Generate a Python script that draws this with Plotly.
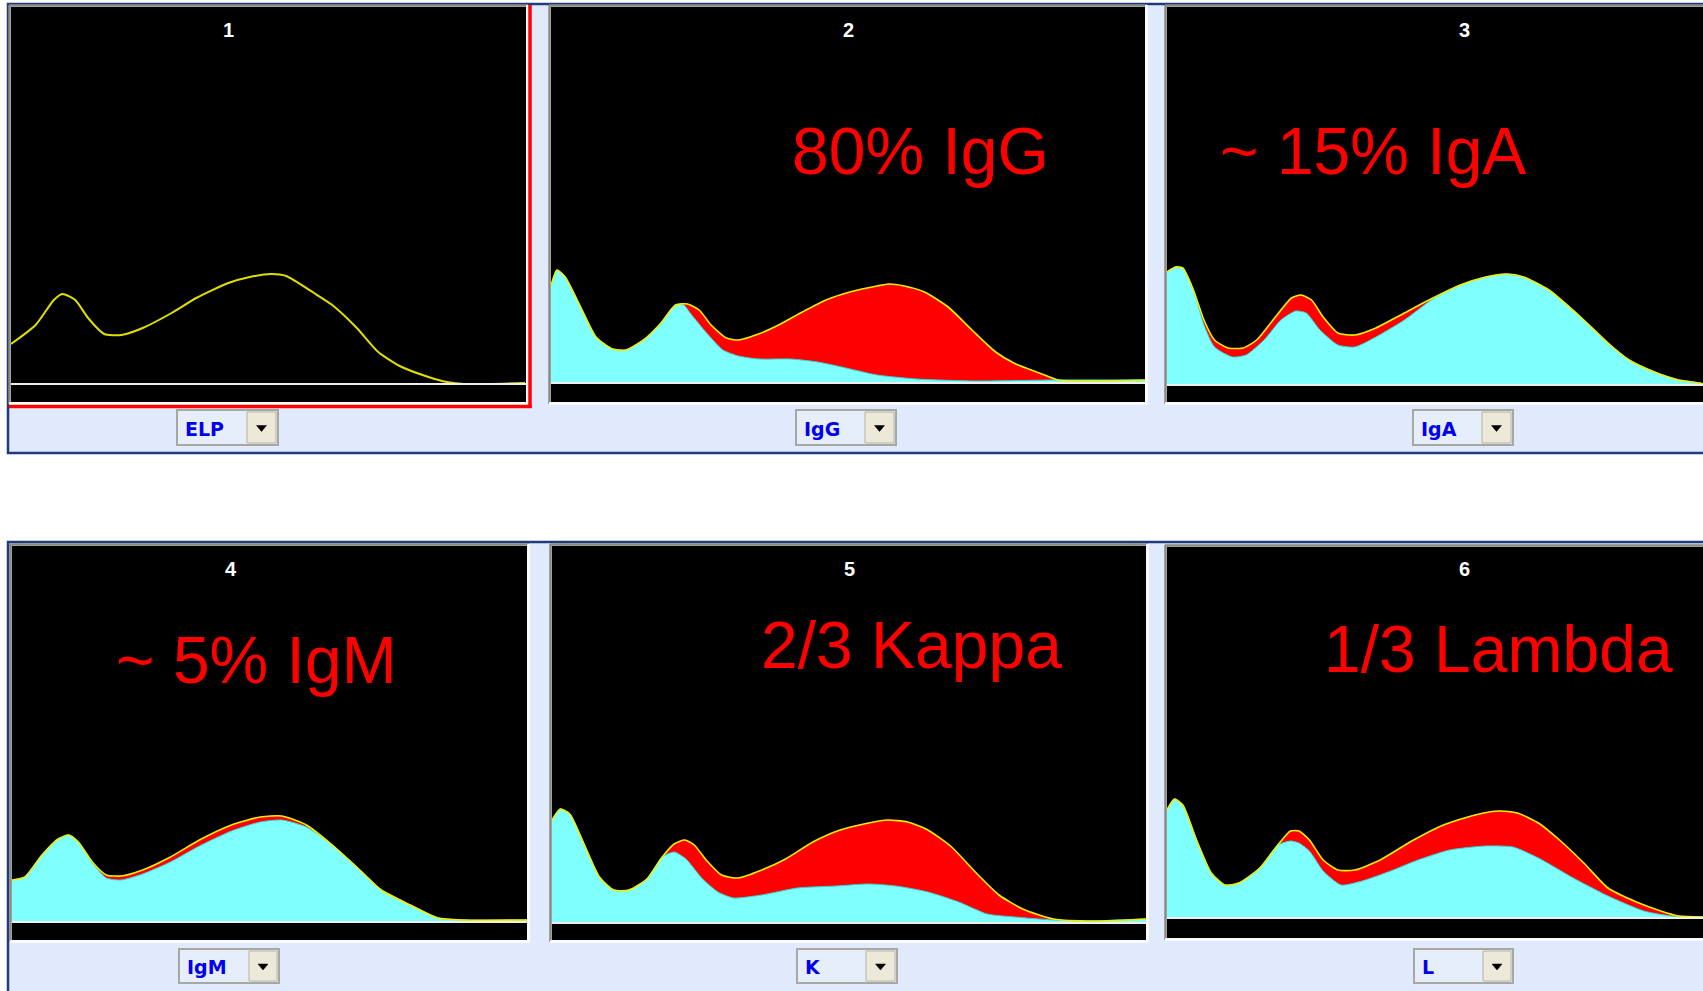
import plotly.graph_objects as go

W, H = 1703, 991

# ---------------- data (heights above baseline vs. mobility position) ----------------
ELP_x = [0, 23, 40, 48, 60, 72, 87, 103, 123, 150, 173, 203, 223, 243, 257, 283, 300, 323, 343, 363, 390, 407, 423, 480]
ELP_y = [40, 59, 84, 90, 84, 66, 50, 49, 56, 71, 86, 101, 107, 110, 108, 91, 79, 56, 32, 18, 7, 2, 0, 1]

IgG_top_x = [0, 5, 12, 25, 38, 52, 63, 78, 92, 105, 115, 125, 135, 148, 158, 175, 192, 212, 232, 252, 275, 285, 298, 315, 335, 355, 375, 392, 412, 428, 458, 501]
IgG_top_y = [97, 113, 106, 76, 46, 34, 33, 43, 59, 78, 79, 73, 58, 45, 43, 49, 58, 71, 83, 91, 97, 99, 97, 91, 76, 53, 31, 19, 10, 3, 2, 3]
IgG_rest_x = [0, 5, 12, 25, 38, 52, 63, 78, 92, 105, 112, 118, 132, 145, 158, 175, 202, 225, 245, 275, 308, 358, 425, 501]
IgG_rest_y = [97, 113, 106, 76, 46, 34, 33, 43, 59, 78, 78, 69, 49, 33, 27, 24, 24, 21, 16, 8, 4, 2, 3, 3]

IgA_top_x = [0, 8, 15, 25, 35, 45, 58, 72, 85, 102, 118, 127, 137, 148, 162, 178, 198, 225, 252, 278, 302, 322, 338, 362, 392, 418, 438, 462, 485, 505, 508]
IgA_top_y = [113, 118, 117, 95, 65, 45, 37, 37, 45, 67, 87, 90, 85, 68, 52, 50, 57, 72, 87, 100, 108, 111, 108, 95, 68, 42, 25, 13, 5, 2, 1]
IgA_rest_x = [0, 8, 15, 25, 35, 45, 62, 75, 92, 108, 122, 132, 145, 162, 178, 198, 225, 252, 278, 302, 322, 338, 362, 392, 418, 438, 462, 485, 505, 508]
IgA_rest_y = [113, 118, 117, 95, 60, 38, 28, 30, 45, 65, 74, 72, 55, 40, 38, 48, 65, 86, 100, 108, 111, 108, 95, 68, 42, 25, 13, 5, 2, 1]

IgM_x = [0, 12, 28, 43, 53, 62, 75, 88, 102, 122, 148, 175, 205, 232, 252, 275, 298, 322, 345, 372, 398, 422, 481]
IgM_top_y = [42, 45, 67, 83, 87, 80, 60, 47, 46, 52, 65, 82, 97, 105, 106, 97, 78, 55, 32, 17, 4, 2, 2]
IgM_rest_y = [42, 45, 67, 83, 87, 80, 59, 44, 42, 48, 60, 76, 91, 100, 102, 95, 78, 55, 32, 17, 4, 2, 2]

K_top_x = [0, 7, 15, 27, 40, 52, 65, 80, 93, 103, 112, 120, 130, 143, 157, 177, 197, 220, 243, 267, 283, 300, 317, 337, 357, 377, 397, 423, 457, 501]
K_top_y = [103, 114, 109, 79, 46, 33, 33, 44, 66, 79, 83, 78, 63, 48, 45, 53, 64, 81, 93, 100, 103, 101, 93, 76, 51, 28, 14, 4, 2, 4]
K_rest_x = [0, 7, 15, 27, 40, 52, 65, 80, 93, 103, 113, 127, 140, 153, 177, 207, 240, 267, 290, 317, 343, 367, 390, 423, 457, 501]
K_rest_y = [103, 114, 109, 79, 46, 33, 33, 44, 66, 71, 64, 44, 31, 25, 28, 35, 37, 39, 37, 31, 21, 9, 6, 3, 2, 4]

L_top_x = [0, 7, 15, 28, 42, 55, 68, 88, 105, 117, 125, 135, 148, 162, 178, 202, 232, 262, 292, 315, 332, 352, 372, 395, 418, 445, 468, 485, 508]
L_top_y = [108, 119, 113, 78, 45, 33, 35, 50, 73, 87, 87, 78, 58, 48, 48, 58, 77, 93, 103, 107, 105, 95, 78, 55, 30, 16, 7, 2, 1]
L_rest_x = [0, 7, 15, 28, 42, 55, 68, 88, 105, 117, 125, 135, 148, 165, 185, 212, 238, 268, 302, 328, 352, 385, 418, 452, 478, 508]
L_rest_y = [108, 119, 113, 78, 45, 33, 35, 50, 73, 77, 75, 67, 47, 33, 37, 47, 58, 68, 72, 71, 60, 40, 22, 7, 2, 1]

panel_titles = ["1", "2", "3", "4", "5", "6"]
selector_labels = ["ELP", "IgG", "IgA", "IgM", "K", "L"]
big_labels = ["80% IgG", "~ 15% IgA", "~ 5% IgM", "2/3 Kappa", "1/3 Lambda"]

# ---------------- layout helpers ----------------
def fx(p):
    return p / W

def fy(p):
    return 1 - p / H

RED = "#FF0000"
CYAN = "#80FFFF"
YEL = "#F0F000"
NAVY = "#1F3B7C"
LBLUE = "#E0EAFC"

# panel geometry (pixels): x0, x1, y_top, y_bottom, baseline, xmax
panels = [
    dict(x0=11, x1=526, yt=7, yb=402, base=384, xmax=481),
    dict(x0=551, x1=1145, yt=7, yb=402, base=383, xmax=501),
    dict(x0=1167, x1=1703, yt=7, yb=402, base=385, xmax=508),
    dict(x0=12, x1=527, yt=546, yb=940, base=922, xmax=481),
    dict(x0=552, x1=1146, yt=546, yb=940, base=923, xmax=501),
    dict(x0=1167, x1=1703, yt=547, yb=938, base=918, xmax=508),
]

series = [
    (ELP_x, ELP_y, None, None),
    (IgG_top_x, IgG_top_y, IgG_rest_x, IgG_rest_y),
    (IgA_top_x, IgA_top_y, IgA_rest_x, IgA_rest_y),
    (IgM_x, IgM_top_y, IgM_x, IgM_rest_y),
    (K_top_x, K_top_y, K_rest_x, K_rest_y),
    (L_top_x, L_top_y, L_rest_x, L_rest_y),
]

fig = go.Figure()
layout = dict(
    width=W, height=H, margin=dict(l=0, r=0, t=0, b=0),
    paper_bgcolor="white", plot_bgcolor="black", showlegend=False,
)
shapes = []
annotations = []

# frames (light blue boxes with navy border)
for (y0, y1) in [(4, 453), (542, 1010)]:
    shapes.append(dict(type="rect", xref="paper", yref="paper", x0=fx(8), x1=fx(1720),
                       y0=fy(y1), y1=fy(y0), fillcolor=LBLUE, line=dict(color=NAVY, width=2.5), layer="below"))

for i, (p, s) in enumerate(zip(panels, series), start=1):
    xa = "xaxis" if i == 1 else f"xaxis{i}"
    ya = "yaxis" if i == 1 else f"yaxis{i}"
    xr = "x" if i == 1 else f"x{i}"
    yr = "y" if i == 1 else f"y{i}"
    layout[xa] = dict(domain=[fx(p["x0"]), fx(p["x1"])], range=[0, p["xmax"]], anchor=yr,
                      visible=False, fixedrange=True)
    layout[ya] = dict(domain=[fy(p["yb"]), fy(p["yt"])],
                      range=[-(p["yb"] - p["base"]), p["base"] - p["yt"]], anchor=xr,
                      visible=False, fixedrange=True)
    # black panel background
    shapes.append(dict(type="rect", xref="paper", yref="paper", x0=fx(p["x0"]), x1=fx(p["x1"]),
                       y0=fy(p["yb"]), y1=fy(p["yt"]), fillcolor="black", line=dict(width=0), layer="below"))
    tx, ty, cx, cy = s
    if cx is None:
        fig.add_trace(go.Scatter(x=tx, y=ty, mode="lines", xaxis=xr, yaxis=yr,
                                 line=dict(color="#E0E000", width=2, shape="spline", smoothing=0.6),
                                 hoverinfo="skip"))
    else:
        fig.add_trace(go.Scatter(x=tx, y=ty, mode="lines", xaxis=xr, yaxis=yr, fill="tozeroy",
                                 fillcolor=RED, line=dict(color=RED, width=0.5, shape="spline", smoothing=0.6),
                                 hoverinfo="skip"))
        fig.add_trace(go.Scatter(x=cx, y=cy, mode="lines", xaxis=xr, yaxis=yr, fill="tozeroy",
                                 fillcolor=CYAN, line=dict(color="#30D8D8", width=1, shape="spline", smoothing=0.6),
                                 hoverinfo="skip"))
        fig.add_trace(go.Scatter(x=tx, y=ty, mode="lines", xaxis=xr, yaxis=yr,
                                 line=dict(color=YEL, width=1.6, shape="spline", smoothing=0.6),
                                 hoverinfo="skip"))
    # white baseline
    shapes.append(dict(type="line", xref=f"{xr} domain", yref=yr, x0=0, x1=1, y0=0, y1=0,
                       line=dict(color="#EEEEEE", width=2), layer="above"))
    # bevel border
    shapes.append(dict(type="line", xref="paper", yref="paper", x0=fx(p["x0"] - 1.5), x1=fx(p["x0"] - 1.5),
                       y0=fy(p["yt"] - 2), y1=fy(p["yb"] + 2), line=dict(color="#8A8A80", width=2.5), layer="below"))
    shapes.append(dict(type="line", xref="paper", yref="paper", x0=fx(p["x0"] - 2), x1=fx(p["x1"] + 2),
                       y0=fy(p["yt"] - 1.5), y1=fy(p["yt"] - 1.5), line=dict(color="#8A8A80", width=2.5), layer="below"))
    shapes.append(dict(type="line", xref="paper", yref="paper", x0=fx(p["x1"] + 1.5), x1=fx(p["x1"] + 1.5),
                       y0=fy(p["yt"] - 2), y1=fy(p["yb"] + 2), line=dict(color="#FFFFFF", width=2.5), layer="below"))
    shapes.append(dict(type="line", xref="paper", yref="paper", x0=fx(p["x0"] - 2), x1=fx(p["x1"] + 2),
                       y0=fy(p["yb"] + 1.5), y1=fy(p["yb"] + 1.5), line=dict(color="#FFFFFF", width=2.5), layer="below"))

# red selection border around panel 1
shapes.append(dict(type="line", xref="paper", yref="paper", x0=fx(530), x1=fx(530), y0=fy(5), y1=fy(408),
                   line=dict(color=RED, width=3.5), layer="above"))
shapes.append(dict(type="line", xref="paper", yref="paper", x0=fx(9), x1=fx(531.5), y0=fy(406.5), y1=fy(406.5),
                   line=dict(color=RED, width=3.5), layer="above"))

# panel numbers
title_pos = [(228, 30), (848, 30), (1464, 30), (231, 569), (849, 569), (1464, 569)]
for t, (x, y) in zip(panel_titles, title_pos):
    annotations.append(dict(text=f"<b>{t}</b>", x=fx(x), y=fy(y), xref="paper", yref="paper",
                            xanchor="center", yanchor="middle", showarrow=False,
                            font=dict(family="Liberation Sans, Arial", size=20, color="white")))

# selector boxes
selectors = [(177, 278, 410, 445, 247), (796, 896, 410, 445, 865), (1413, 1513, 410, 445, 1482),
             (179, 279, 949, 983, 249), (797, 897, 949, 983, 866), (1414, 1513, 949, 983, 1483)]
for lab, (x0, x1, y0, y1, bx) in zip(selector_labels, selectors):
    shapes.append(dict(type="rect", xref="paper", yref="paper", x0=fx(x0), x1=fx(x1), y0=fy(y1), y1=fy(y0),
                       fillcolor="#E6EEFC", line=dict(color="#A8A8A0", width=2), layer="above"))
    shapes.append(dict(type="rect", xref="paper", yref="paper", x0=fx(bx), x1=fx(x1 - 2), y0=fy(y1 - 2), y1=fy(y0 + 2),
                       fillcolor="#ECE9D8", line=dict(color="#B4B2A6", width=1), layer="above"))
    cxm = (bx + x1 - 2) / 2
    cym = (y0 + y1) / 2 + 1
    path = (f"M {fx(cxm - 5)} {fy(cym - 3)} L {fx(cxm + 5)} {fy(cym - 3)} "
            f"L {fx(cxm)} {fy(cym + 3)} Z")
    shapes.append(dict(type="path", xref="paper", yref="paper", path=path, fillcolor="black",
                       line=dict(color="black", width=0.5), layer="above"))
    annotations.append(dict(text=f"<b>{lab}</b>", x=fx(x0 + 6), y=fy((y0 + y1) / 2 + 1), xref="paper", yref="paper",
                            xanchor="left", yanchor="middle", showarrow=False,
                            font=dict(family="DejaVu Sans, Verdana", size=19, color="#0000EE")))

# large red labels
big_pos = [(920, 151), (1373, 151), (256, 660), (911, 645), (1498, 649)]
for t, (x, y) in zip(big_labels, big_pos):
    annotations.append(dict(text=t, x=fx(x), y=fy(y), xref="paper", yref="paper",
                            xanchor="center", yanchor="middle", showarrow=False,
                            font=dict(family="Liberation Sans, Arial", size=66, color=RED)))

layout["shapes"] = shapes
layout["annotations"] = annotations
fig.update_layout(**layout)
fig.write_html("out.html")
